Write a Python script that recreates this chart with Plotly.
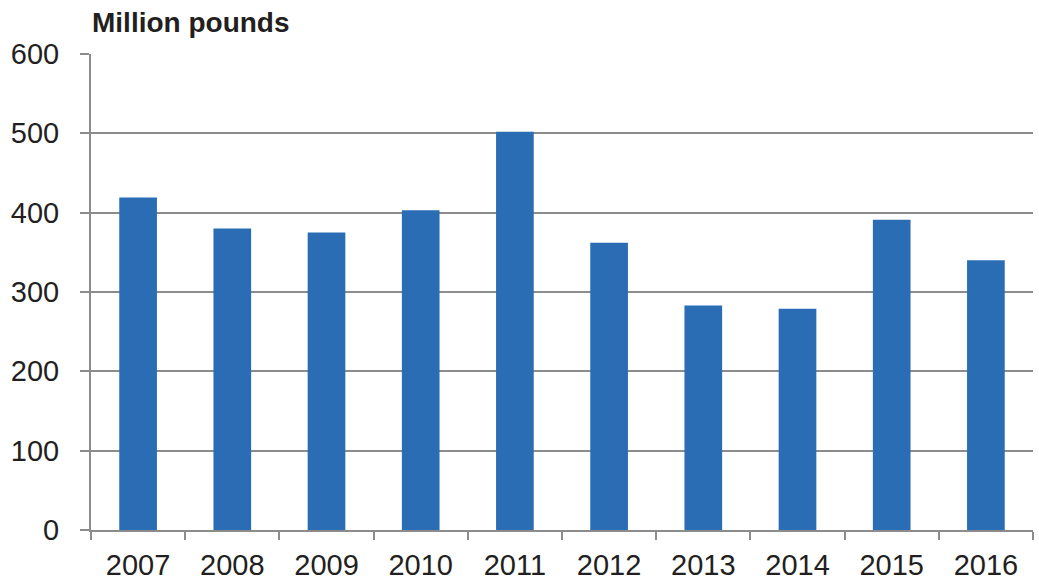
import plotly.graph_objects as go

years = ["2007", "2008", "2009", "2010", "2011", "2012", "2013", "2014", "2015", "2016"]
values = [419, 380, 375, 403, 502, 362, 283, 279, 391, 340]
y_ticks = [0, 100, 200, 300, 400, 500, 600]

bar_color = "#2A6DB5"
grid_color = "#8C8C8C"
font_family = "Liberation Sans, Arial, sans-serif"

fig = go.Figure(go.Bar(x=years, y=values, marker=dict(color=bar_color, line=dict(width=0))))

fig.update_layout(
    width=1039, height=584,
    margin=dict(l=91, r=6, t=54, b=54),
    paper_bgcolor="white", plot_bgcolor="white",
    bargap=0.6,
    showlegend=False,
    font=dict(family=font_family, color="#231F20", size=29),
    annotations=[dict(text="<b>Million pounds</b>", xref="paper", yref="paper",
                      x=0, y=1, xanchor="left", yanchor="bottom", yshift=14, xshift=-1,
                      showarrow=False, font=dict(size=28, color="#231F20", family=font_family))],
)
fig.update_xaxes(
    type="category", showgrid=False, showline=True, linecolor=grid_color, linewidth=2,
    ticks="outside", tickson="boundaries", ticklen=8, tickcolor=grid_color, tickwidth=2,
    tickfont=dict(size=29), ticklabelstandoff=8, automargin=False,
)
fig.update_yaxes(
    range=[0, 600], tickvals=y_ticks, showgrid=True, gridcolor=grid_color, gridwidth=2,
    showline=True, linecolor=grid_color, linewidth=2, zeroline=False,
    ticks="outside", ticklen=9, tickcolor=grid_color, tickwidth=2,
    tickfont=dict(size=29), ticklabelstandoff=15, automargin=False,
)

fig.write_html(
    "out.html",
    config={"displayModeBar": False},
    post_script="document.body.style.margin='0';document.body.style.overflow='hidden';",
)
